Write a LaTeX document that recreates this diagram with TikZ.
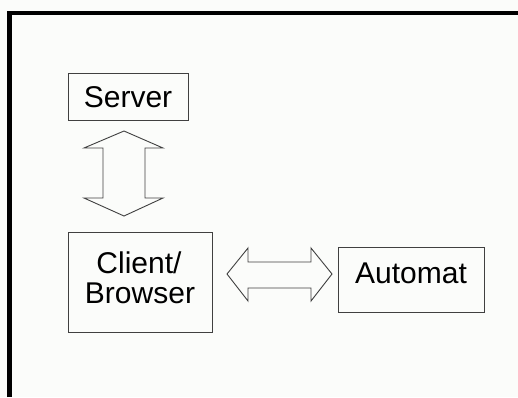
\documentclass[tikz,border=0pt]{standalone}
\usepackage{fontspec}
\setmainfont{Liberation Sans}
\definecolor{bg}{HTML}{FBFCFA}
\definecolor{edge}{HTML}{404040}
\begin{document}
\begin{tikzpicture}[x=1pt,y=-1pt,
  box/.style={draw=edge,line width=0.9pt,fill=bg,inner sep=0pt},
  txt/.style={inner sep=0pt,anchor=base,font=\fontsize{30}{32}\selectfont},
  blockarrow/.style={draw=edge,line width=0.9pt,fill=bg,line join=miter}]
\fill[bg] (0,0) rectangle (518,397);
\useasboundingbox (0,0) rectangle (518,397);
\draw[line width=4.5pt] (9.5,397) -- (9.5,13) -- (518,13);
\node[box,minimum width=120pt,minimum height=47pt] (server) at (128,96.5) {};
\node[box,minimum width=144pt,minimum height=100pt] (client) at (140,282) {};
\node[box,minimum width=146pt,minimum height=65pt] (automat) at (411,279.5) {};
\node[txt] (servertext) at (128,107) {Server};
\node[txt] (clienttext) at (139,273) {Client/};
\node[txt] (browsertext) at (140,303) {Browser};
\node[txt] (automattext) at (411,283) {Automat};
% vertical double block arrow between server and client
\draw[blockarrow] (124,131) -- (163,148) -- (145,148) -- (145,198) -- (163,198) -- (124,216)
  -- (84,198) -- (103,198) -- (103,148) -- (84,148) -- cycle;
% horizontal double block arrow between client and automat
\draw[blockarrow] (227,274) -- (248,248) -- (248,262) -- (311,262) -- (311,248) -- (332,274)
  -- (311,301) -- (311,288) -- (248,288) -- (248,301) -- cycle;
\end{tikzpicture}
\end{document}
